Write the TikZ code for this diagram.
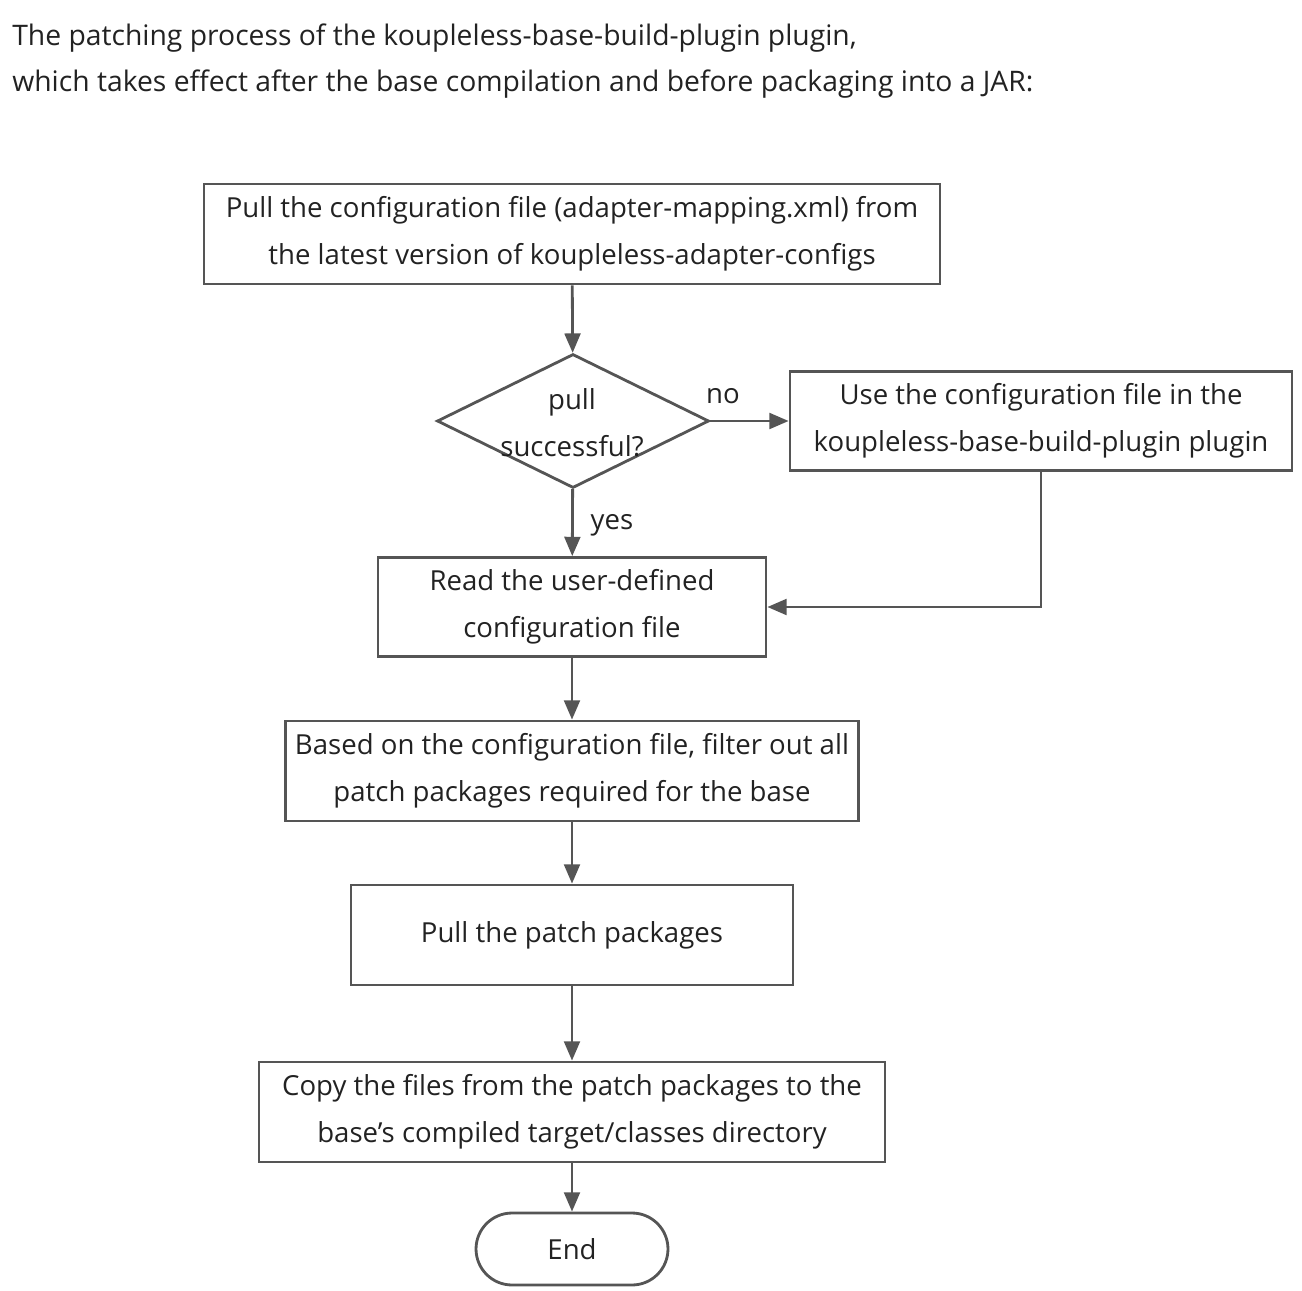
\documentclass[tikz,border=0pt]{standalone}
\usepackage{fontspec}
\setmainfont{Open Sans}
\usetikzlibrary{arrows.meta,shapes.geometric}
\definecolor{linegray}{HTML}{555555}
\definecolor{textgray}{HTML}{222222}

\begin{document}
\begin{tikzpicture}[x=0.02cm, y=-0.02cm,
		every node/.style={text=textgray, font=\fontsize{15.7}{26.6}\selectfont},
		flowbox/.style={draw=linegray, line width=1.6pt, align=center, inner sep=0pt},
		decision/.style={diamond, draw=linegray, line width=1.6pt, inner sep=0pt},
		endbox/.style={draw=linegray, line width=1.6pt, rounded corners=0.72cm, inner sep=0pt},
		arrow/.style={draw=linegray, line width=1.6pt, -{Triangle[length=11pt, width=9pt]}}]
			\useasboundingbox (0, 0) rectangle (1302, 1291);
			\node[anchor=west, align=left, inner sep=0pt, font=\fontsize{16.1}{26.6}\selectfont] (title) at (12, 61) {The patching process of the koupleless-base-build-plugin plugin,\\which takes effect after the base compilation and before packaging into a JAR:};
			\node[flowbox, minimum width=14.72cm, minimum height=2cm] (pull) at (572, 234) {Pull the configuration file (adapter-mapping.xml) from\\the latest version of koupleless-adapter-configs};
			\node[decision, minimum width=5.44cm, minimum height=2.68cm] (ok) at (573, 421) {};
			\node[align=center] (oktext) at (572, 423) {pull\\successful?};
			\node[flowbox, minimum width=10.04cm, minimum height=1.98cm] (local) at (1041, 421) {Use the configuration file in the\\koupleless-base-build-plugin plugin};
			\node[flowbox, minimum width=7.76cm, minimum height=1.98cm] (user) at (572, 607) {Read the user-defined\\configuration file};
			\node[flowbox, minimum width=11.46cm, minimum height=2cm] (filter) at (572, 771) {Based on the configuration file, filter out all\\patch packages required for the base};
			\node[flowbox, minimum width=8.84cm, minimum height=2cm] (patch) at (572, 935) {Pull the patch packages};
			\node[flowbox, minimum width=12.52cm, minimum height=2cm] (copy) at (572, 1112) {Copy the files from the patch packages to the\\base's compiled target/classes directory};
			\node[endbox, minimum width=3.84cm, minimum height=1.44cm] (end) at (572, 1249) {End};
			\foreach \a/\b in {pull/ok, ok/user, user/filter, filter/patch, patch/copy, copy/end}
				\draw[arrow] (\a) -- (\b);
			\draw[arrow] (ok) -- (local);
			\draw[arrow] (local.south) |- (user.east);
			\node (no) at (723, 396) {no};
			\node (yes) at (612, 525) {yes};
		\end{tikzpicture}
\end{document}
